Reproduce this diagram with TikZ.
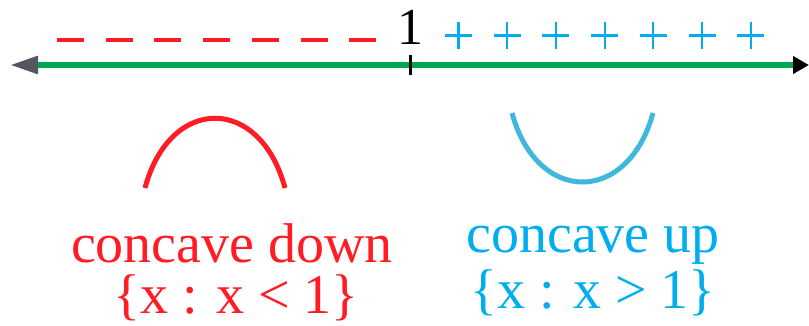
\documentclass[tikz,border=0pt]{standalone}
\usepackage{fontspec}
\setmainfont{Liberation Serif}
\usetikzlibrary{arrows.meta}
\definecolor{signred}{RGB}{255,28,36}
\definecolor{signcyan}{RGB}{0,174,239}
\definecolor{cupblue}{RGB}{64,184,220}
\definecolor{axisgreen}{RGB}{0,166,81}
\definecolor{tipgray}{RGB}{85,87,95}

\begin{document}
\begin{tikzpicture}[x=1pt,y=-1pt,
  bigtext/.style={font=\fontsize{56}{60}\selectfont,inner sep=0pt,anchor=base}]
\useasboundingbox (0,0) rectangle (809,326);
% number line
\coordinate (left) at (10,65);
\coordinate (right) at (809,65);
\draw[axisgreen,line width=5.5pt,{Triangle[length=28pt,width=17pt,color=tipgray]}-{Triangle[length=16pt,width=17pt,color=black]}] (left) -- (right);
\draw[line width=3pt] (410,55) -- (410,75);
\node[font=\fontsize{52}{56}\selectfont,inner sep=0pt,anchor=base] (one) at (410,45) {1};
% sign chart
\foreach \k in {0,...,6} {
  \draw[signred,line width=3.2] ({57+48.7*\k},40) -- ++(27,0);
  \draw[signcyan,line width=2.2] ({445+48.7*\k},35.5) -- ++(27,0);
  \draw[signcyan,line width=2.2] ({458.5+48.7*\k},22) -- ++(0,27);
}
% curves
\draw[signred,line width=5] (145,188) .. controls (170,95) and (260,95) .. (285,188);
\draw[cupblue,line width=5] (512,113) .. controls (537,205) and (628,205) .. (653,113);
% labels
\node[bigtext,signred] (downlbl) at (232,262) {concave down};
\node[bigtext,signred] (downset) at (236,313) {\{x : x < 1\}};
\node[bigtext,signcyan] (uplbl) at (593,252) {concave up};
\node[bigtext,signcyan] (upset) at (593,308) {\{x : x > 1\}};
\end{tikzpicture}
\end{document}
